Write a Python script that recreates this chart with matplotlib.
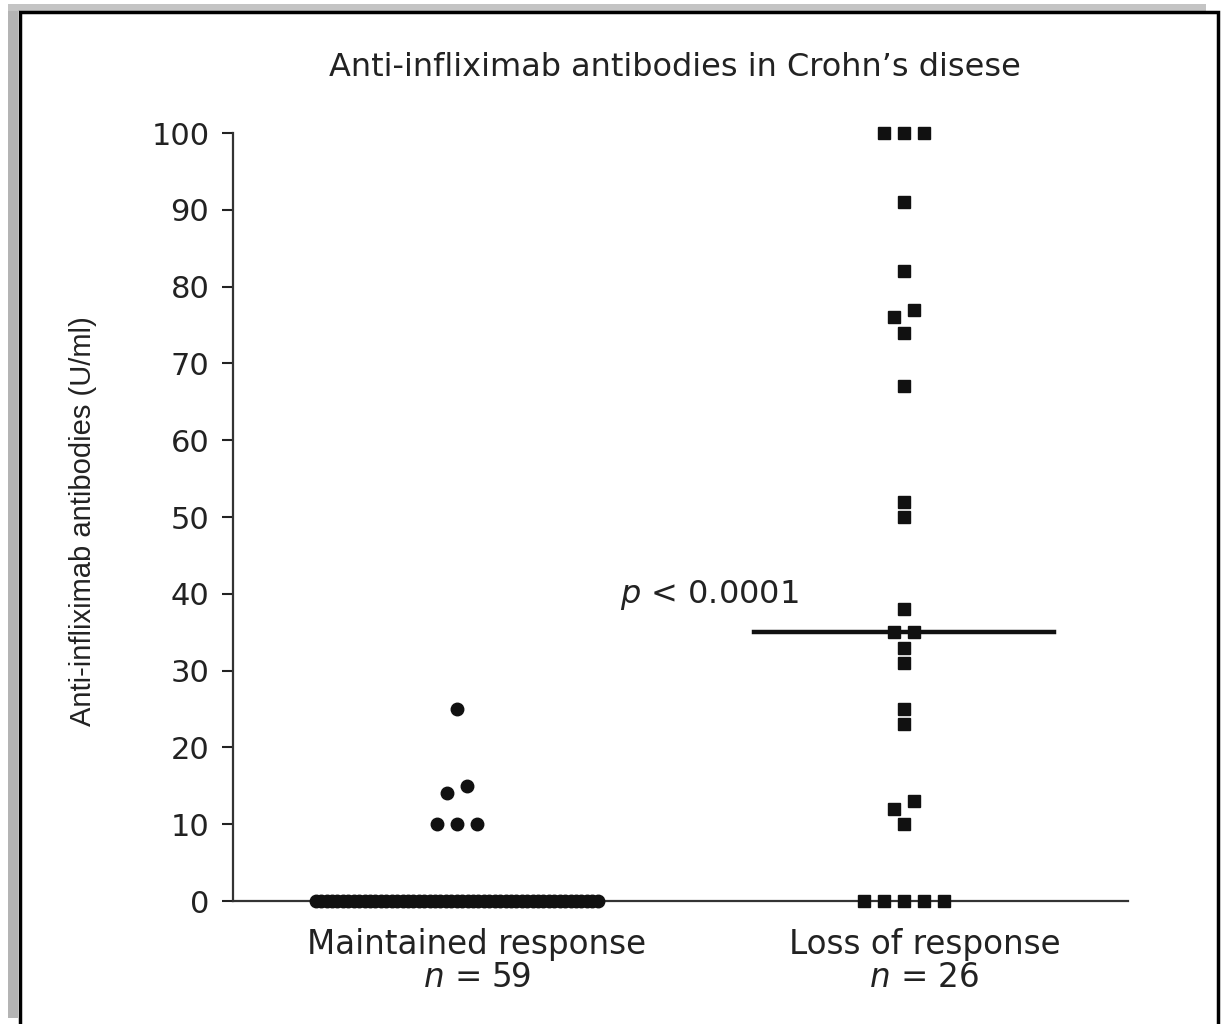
import matplotlib.pyplot as plt
import matplotlib.patches as mpatches
import numpy as np

# values, as value / how many patients at that value
maintained_values = [0, 10, 14, 15, 25]
maintained_counts = [53, 3, 1, 1, 1]

loss_values = [0, 10, 12, 13, 23, 25, 31, 33, 35, 38, 50, 52, 67, 74, 76, 77, 82, 91, 100]
loss_counts = [5, 1, 1, 1, 1, 1, 1, 1, 2, 1, 1, 1, 1, 1, 1, 1, 1, 1, 3]

group_labels = ["Maintained response", "Loss of response"]
group_n = [59, 26]
yticks = [0, 10, 20, 30, 40, 50, 60, 70, 80, 90, 100]


def spread(values, center, step=0.045, max_span=0.63, tol=1.5):
    # simple dot-plot layout: near-equal values are put side by side
    vals = np.sort(np.asarray(values, dtype=float))
    xs, ys = [], []
    i = 0
    while i < len(vals):
        j = i + 1
        while j < len(vals) and vals[j] - vals[j - 1] <= tol:
            j += 1
        k = j - i
        s = step if k == 1 else min(step, max_span / (k - 1))
        offs = (np.arange(k) - (k - 1) / 2) * s
        xs.extend(center + offs)
        ys.extend(vals[i:j])
        i = j
    return np.array(xs), np.array(ys)


maintained = np.repeat(maintained_values, maintained_counts)
loss = np.repeat(loss_values, loss_counts)

fig = plt.figure(figsize=(12.23, 10.24), dpi=100)
W, H = 1223, 1024

# gray shadow and black frame round the figure
fig.patches.append(mpatches.Rectangle((8 / W, 1 - 1018 / H), 10 / W, 1008 / H,
                                      transform=fig.transFigure, color='#b4b4b4', lw=0))
fig.patches.append(mpatches.Rectangle((8 / W, 1 - 11 / H), 1198 / W, 7 / H,
                                      transform=fig.transFigure, color='#c4c4c4', lw=0))
fig.patches.append(mpatches.Rectangle((20 / W, -0.02), 1198 / W, 1 - 12 / H + 0.02,
                                      transform=fig.transFigure, fill=False,
                                      edgecolor='black', lw=2.5))

ax = fig.add_axes([0.1905, 0.1201, 0.7318, 0.75])

x0, y0 = spread(maintained, 0)
x1, y1 = spread(loss, 1)
ax.plot(x0, y0, 'o', color='#111111', markersize=9, clip_on=False, zorder=3)
ax.plot(x1, y1, 's', color='#111111', markersize=8.5, clip_on=False, zorder=3)

med = np.median(loss)
ax.plot([1 - 0.335, 1 + 0.335], [med, med], color='#111111', lw=3.2, zorder=4)
ax.text(0.365, 39.8, "$p$ < 0.0001", fontsize=23, va='center', ha='left', color='#222222')

ax.set_xlim(-0.5, 1.5)
ax.set_ylim(0, 100)
ax.set_yticks(yticks)
ax.tick_params(axis='y', labelsize=22, length=8, width=1.5, pad=9, colors='#222222')
ax.set_xticks([])
for side in ['top', 'right']:
    ax.spines[side].set_visible(False)
for side in ['left', 'bottom']:
    ax.spines[side].set_color('#333333')
    ax.spines[side].set_linewidth(1.6)

for i, (lab, n) in enumerate(zip(group_labels, group_n)):
    ax.text(i + 0.045, -5.6, lab, fontsize=23.5, ha='center', va='center', color='#222222')
    ax.text(i + 0.045, -10, "$n$ = %d" % n, fontsize=23.5, ha='center', va='center', color='#222222')

fig.text(675 / W, 1 - 68 / H, "Anti-infliximab antibodies in Crohn\u2019s disese",
         fontsize=23, ha='center', va='center', color='#222222')
fig.text(83 / W, 1 - 521 / H, "Anti-infliximab antibodies (U/ml)", rotation=90,
         fontsize=21, ha='center', va='center', family='Liberation Sans', color='#222222')

plt.savefig("out.png", dpi=100)
